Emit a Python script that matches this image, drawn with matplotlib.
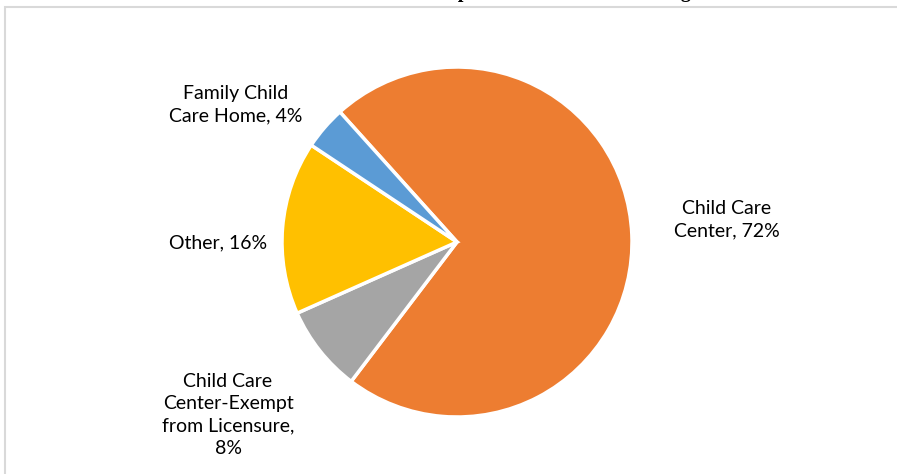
import matplotlib.pyplot as plt
from matplotlib.patches import Rectangle

labels = ["Child Care\nCenter, 72%", "Child Care\nCenter-Exempt\nfrom Licensure,\n8%",
          "Other, 16%", "Family Child\nCare Home, 4%"]
shares = [72, 8, 16, 4]
colors = ["#ED7D31", "#A5A5A5", "#FFC000", "#5B9BD5"]
title = "Respondent Child Care Setting"

W, H = 897, 474
fig = plt.figure(figsize=(W / 100, H / 100), dpi=100)
fig.patch.set_facecolor("white")

# chart frame (cropped on right and bottom)
fig.patches.append(Rectangle((5 / W, -0.1), 1.2, 1 - 7 / H + 0.1, transform=fig.transFigure,
                             fill=False, edgecolor="#D9D9D9", linewidth=1.5))

# title lies above the visible area, only descenders show
fig.text(427 / W, 1 + 2.5 / H, title, ha="left", va="baseline", fontsize=14.3,
         fontweight="bold", family="Liberation Serif", color="black")

r = 175
cx, cy = 457, 242
ax = fig.add_axes([(cx - r) / W, (H - cy - r) / H, 2 * r / W, 2 * r / H])
ax.pie(shares, colors=colors, startangle=132, counterclock=False,
       wedgeprops=dict(edgecolor="white", linewidth=2.5))
ax.set_xlim(-1, 1)
ax.set_ylim(-1, 1)
ax.set_aspect("equal")
ax.axis("off")

label_pos = [(727, 220), (228, 415), (218, 243), (236, 105)]
for text, (x, y) in zip(labels, label_pos):
    fig.text(x / W, 1 - y / H, text, ha="center", va="center", fontsize=14,
             family="Lato", color="black", linespacing=1.4)

fig.savefig("out.png", dpi=100)
